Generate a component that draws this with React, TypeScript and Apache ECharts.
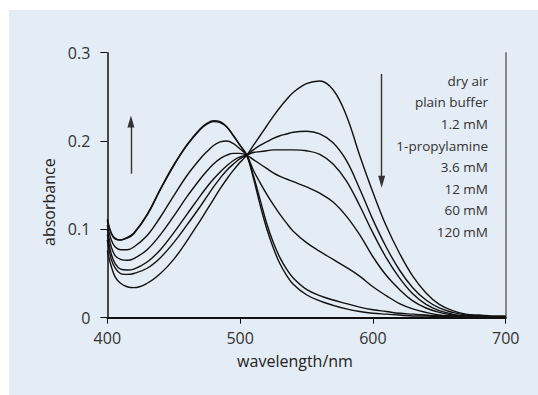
import React, { useEffect, useRef } from "react";
import * as echarts from "echarts";

const wavelengths = [400, 403, 406, 410, 415, 420, 430, 440, 450, 460, 470, 475, 480, 485, 490, 495, 500, 505, 510, 515, 520, 525, 530, 535, 540, 550, 560, 570, 580, 590, 600, 610, 620, 630, 640, 650, 660, 670, 680, 690, 700];

const dryAir = [0.076, 0.058, 0.046, 0.039, 0.035, 0.034, 0.039, 0.050, 0.066, 0.087, 0.110, 0.122, 0.134, 0.146, 0.157, 0.167, 0.176, 0.184, 0.195, 0.206, 0.217, 0.228, 0.238, 0.247, 0.255, 0.265, 0.268, 0.258, 0.229, 0.184, 0.142, 0.104, 0.073, 0.047, 0.028, 0.015, 0.008, 0.004, 0.003, 0.002, 0.002];
const plainBuffer = [0.088, 0.066, 0.056, 0.050, 0.049, 0.050, 0.056, 0.068, 0.085, 0.105, 0.126, 0.137, 0.148, 0.158, 0.167, 0.174, 0.180, 0.184, 0.190, 0.195, 0.199, 0.203, 0.206, 0.208, 0.210, 0.211, 0.208, 0.198, 0.178, 0.146, 0.111, 0.080, 0.054, 0.034, 0.020, 0.011, 0.006, 0.003, 0.002, 0.001, 0.001];
const mM1_2 = [0.094, 0.072, 0.061, 0.055, 0.054, 0.055, 0.063, 0.077, 0.096, 0.117, 0.138, 0.148, 0.157, 0.165, 0.172, 0.178, 0.182, 0.184, 0.187, 0.188, 0.189, 0.190, 0.190, 0.190, 0.190, 0.189, 0.185, 0.174, 0.155, 0.127, 0.096, 0.068, 0.045, 0.027, 0.015, 0.008, 0.004, 0.002, 0.002, 0.001, 0.001];
const mM3_6 = [0.100, 0.080, 0.070, 0.066, 0.065, 0.067, 0.077, 0.094, 0.115, 0.137, 0.157, 0.166, 0.174, 0.180, 0.184, 0.186, 0.186, 0.184, 0.179, 0.174, 0.169, 0.164, 0.160, 0.157, 0.154, 0.148, 0.141, 0.131, 0.115, 0.094, 0.069, 0.048, 0.032, 0.019, 0.011, 0.006, 0.003, 0.002, 0.001, 0.001, 0.001];
const mM12 = [0.105, 0.088, 0.080, 0.077, 0.077, 0.080, 0.093, 0.114, 0.138, 0.161, 0.180, 0.188, 0.195, 0.199, 0.200, 0.197, 0.191, 0.184, 0.167, 0.153, 0.140, 0.128, 0.117, 0.107, 0.098, 0.085, 0.075, 0.066, 0.057, 0.047, 0.035, 0.025, 0.016, 0.010, 0.006, 0.003, 0.002, 0.001, 0.001, 0.001, 0.001];
const mM60 = [0.110, 0.095, 0.089, 0.088, 0.090, 0.095, 0.116, 0.145, 0.172, 0.195, 0.213, 0.219, 0.222, 0.221, 0.216, 0.206, 0.195, 0.184, 0.161, 0.134, 0.107, 0.085, 0.068, 0.055, 0.045, 0.032, 0.025, 0.020, 0.016, 0.012, 0.009, 0.007, 0.005, 0.004, 0.003, 0.002, 0.002, 0.001, 0.001, 0.001, 0.001];
const mM120 = [0.112, 0.096, 0.090, 0.088, 0.091, 0.096, 0.117, 0.146, 0.173, 0.196, 0.214, 0.220, 0.223, 0.222, 0.216, 0.206, 0.195, 0.184, 0.158, 0.128, 0.101, 0.079, 0.061, 0.048, 0.038, 0.026, 0.019, 0.014, 0.010, 0.007, 0.005, 0.004, 0.003, 0.002, 0.002, 0.001, 0.001, 0.001, 0.001, 0.001, 0.001];

const seriesNames = ["dry air", "plain buffer", "1.2 mM", "3.6 mM", "12 mM", "60 mM", "120 mM"];
const seriesValues = [dryAir, plainBuffer, mM1_2, mM3_6, mM12, mM60, mM120];
const legendLines = ["dry air", "plain buffer", "1.2 mM", "1-propylamine", "3.6 mM", "12 mM", "60 mM", "120 mM"];

const xTicks = { min: 400, max: 700, interval: 100 };
const yTicks = { min: 0, max: 0.3, interval: 0.1 };

// arrow annotations in data coordinates: [wavelength, fromAbs, toAbs]
const upArrow = [417.8, 0.163, 0.222];
const downArrow = [606.6, 0.276, 0.154];

const FONT = '"Open Sans", "Noto Sans", sans-serif';

export default function App() {
  const ref = useRef<HTMLDivElement>(null);
  useEffect(() => {
    if (!ref.current) return;
    const chart = echarts.init(ref.current, undefined, { renderer: "svg" });
    const series: any[] = seriesValues.map((vals, i) => ({
      name: seriesNames[i],
      type: "line",
      data: wavelengths.map((w, j) => [w, vals[j]]),
      showSymbol: false,
      smooth: 0.4,
      lineStyle: { color: "#111", width: 1.4 },
      z: 3,
    }));
    series.push({
      name: "arrows",
      type: "line",
      data: [],
      markLine: {
        silent: true,
        symbol: ["none", "triangle"],
        symbolSize: [7, 12],
        label: { show: false },
        lineStyle: { color: "#333", width: 1.4, type: "solid" },
        data: [
          [{ coord: [upArrow[0], upArrow[1]] }, { coord: [upArrow[0], upArrow[2]] }],
          [{ coord: [downArrow[0], downArrow[1]] }, { coord: [downArrow[0], downArrow[2]] }],
        ],
      },
    });
    const lineGap = 21.6;
    const graphic: any[] = [
      {
        type: "rect",
        shape: { x: 9, y: 10, width: 529, height: 385 },
        style: { fill: "#e4ecf5" },
        z: -10,
        silent: true,
      },
      ...legendLines.map((t, i) => ({
        type: "text",
        x: 488,
        y: 80.7 + i * lineGap,
        style: {
          text: t,
          align: "right",
          verticalAlign: "middle",
          fontSize: 13.5,
          fontFamily: FONT,
          fill: "#333",
        },
        z: 5,
      })),
    ];
    chart.setOption({
      animation: false,
      backgroundColor: "#ffffff",
      graphic,
      grid: { left: 107.3, right: 32.3, top: 52.7, bottom: 77.3, containLabel: false },
      xAxis: {
        type: "value",
        min: xTicks.min,
        max: xTicks.max,
        interval: xTicks.interval,
        name: "wavelength/nm",
        nameLocation: "middle",
        nameGap: 35,
        nameTextStyle: { fontSize: 16, fontFamily: FONT, color: "#222", padding: [0, 23, 0, 0] },
        axisLine: { show: true, onZero: false, lineStyle: { color: "#111", width: 2 } },
        axisTick: { show: true, length: 6, lineStyle: { color: "#111", width: 1 } },
        axisLabel: { fontSize: 16, fontFamily: FONT, color: "#333", margin: 12 },
        splitLine: { show: false },
      },
      yAxis: [
        {
          type: "value",
          min: yTicks.min,
          max: yTicks.max,
          interval: yTicks.interval,
          name: "absorbance",
          nameLocation: "middle",
          nameGap: 50,
          nameTextStyle: { fontSize: 16, fontFamily: FONT, color: "#222", padding: [0, 34, 0, 0] },
          axisLine: { show: true, lineStyle: { color: "#111", width: 1.5 } },
          axisTick: { show: true, length: 7, lineStyle: { color: "#111", width: 1 } },
          axisLabel: { fontSize: 16, fontFamily: FONT, color: "#333", margin: 17 },
          splitLine: { show: false },
        },
        {
          type: "value",
          position: "right",
          min: yTicks.min,
          max: yTicks.max,
          interval: yTicks.interval,
          axisLine: { show: true, lineStyle: { color: "#666", width: 1.5 } },
          axisTick: { show: false },
          axisLabel: { show: false },
          splitLine: { show: false },
        },
      ],
      series,
    });
    return () => chart.dispose();
  }, []);
  return (
    <div
      ref={ref}
      style={{ position: "fixed", left: 0, top: 0, width: 538, height: 395 }}
    />
  );
}
